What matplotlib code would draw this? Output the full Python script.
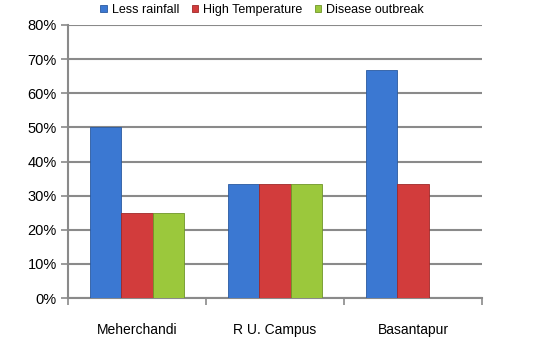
import matplotlib
matplotlib.use("Agg")
import matplotlib.pyplot as plt
import numpy as np

categories = ["Meherchandi", "R U. Campus", "Basantapur"]
series_names = ["Less rainfall", "High Temperature", "Disease outbreak"]
less_rainfall = [50.0, 33.3, 66.7]
high_temperature = [25.0, 33.3, 33.3]
disease_outbreak = [25.0, 33.3, 0.0]
yticks = [0, 10, 20, 30, 40, 50, 60, 70, 80]

colors = ["#3b78d2", "#d23c3c", "#9bc83c"]
edges = ["#2a5aa0", "#a02828", "#6f9628"]

plt.rcParams['font.family'] = ['Liberation Sans', 'DejaVu Sans']

fig = plt.figure(figsize=(5.5, 3.4), dpi=100)
ax = fig.add_axes([68/550, 1-298/340, (482-68)/550, (298-25)/340])

x = np.arange(len(categories))
w = 0.228
data = [less_rainfall, high_temperature, disease_outbreak]
for i, (vals, name) in enumerate(zip(data, series_names)):
    ax.bar(x + (i-1)*w, vals, width=w, color=colors[i], edgecolor=edges[i],
           linewidth=0.6, label=name, zorder=3)

ax.set_xlim(-0.5, 2.5)
ax.set_ylim(0, 80)
ax.set_yticks(yticks)
ax.set_yticklabels([f"{t}%" for t in yticks], fontsize=10.5)
ax.yaxis.grid(True, color="#8a8a8a", linewidth=1.5, zorder=0)
ax.set_axisbelow(True)
ax.set_xticks([-0.5, 0.5, 1.5, 2.5])
ax.set_xticklabels([])
ax.set_xticks(x, minor=True)
ax.set_xticklabels(categories, minor=True, fontsize=10)
ax.tick_params(axis='x', which='minor', length=0, pad=18)
ax.tick_params(axis='x', which='major', length=5, color="#8a8a8a", width=1.2)
ax.tick_params(axis='y', length=5, color="#8a8a8a", width=1.2, pad=3)
for s in ["top", "right"]:
    ax.spines[s].set_visible(False)
for s in ["left", "bottom"]:
    ax.spines[s].set_color("#8a8a8a")
    ax.spines[s].set_linewidth(1.5)

leg = fig.legend(loc="center", bbox_to_anchor=(262/550, 1-10/340), ncol=3, frameon=False,
                 fontsize=9, handlelength=0.5, handleheight=0.5, handletextpad=0.4,
                 columnspacing=1.0, borderaxespad=0.0)

fig.savefig("out.png", dpi=100)
